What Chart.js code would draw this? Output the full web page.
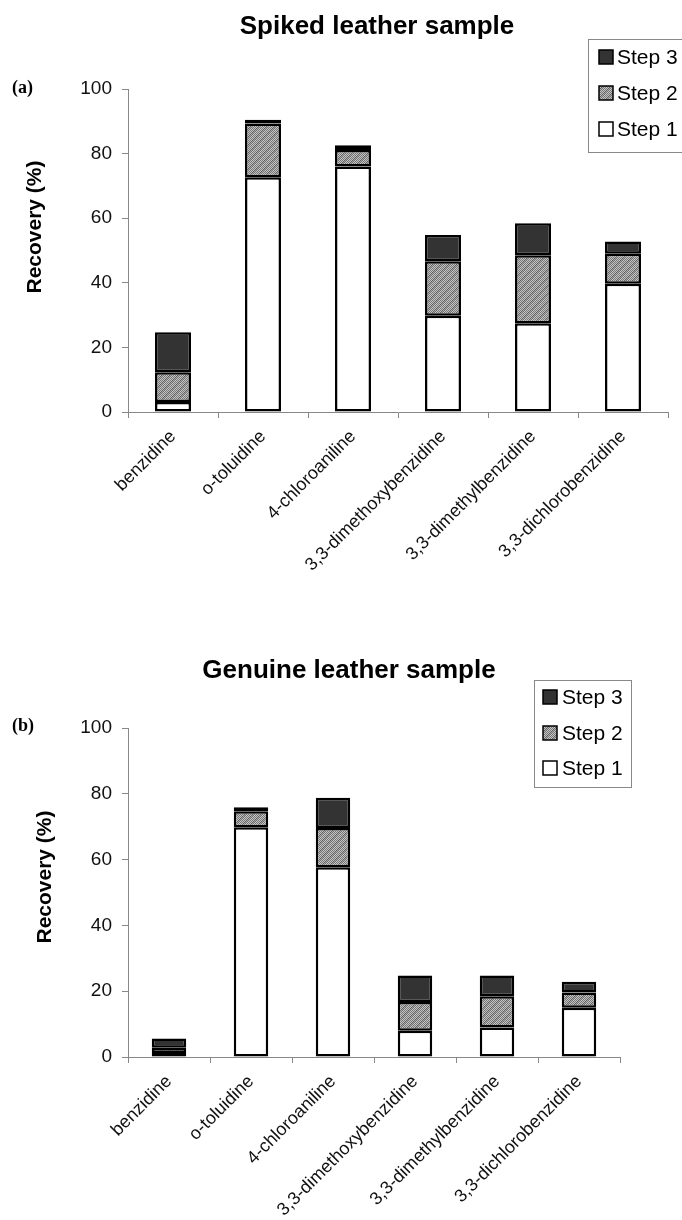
<!DOCTYPE html>
<html><head><meta charset="utf-8">
<script src="https://cdn.jsdelivr.net/npm/chart.js@4.4.1/dist/chart.umd.min.js"></script>
<style>
html,body{margin:0;padding:0;background:#fff;}
#wrap{position:relative;width:682px;height:1220px;overflow:hidden;background:#fff;}
.pane{position:absolute;left:0;width:682px;height:610px;}
canvas{display:block;}
</style></head><body>
<div id="wrap">
<div class="pane" style="top:0"><canvas id="cA" width="682" height="610"></canvas></div>
<div class="pane" style="top:610px"><canvas id="cB" width="682" height="610"></canvas></div>
</div>
<script>
// ---- data ----
const categories = ['benzidine', 'o-toluidine', '4-chloroaniline', '3,3-dimethoxybenzidine', '3,3-dimethylbenzidine', '3,3-dichlorobenzidine'];
const seriesLabels = ['Step 1', 'Step 2', 'Step 3'];
const spikedStep1 = [3.1, 72.7, 76.0, 29.8, 27.5, 39.7];
const spikedStep2 = [9.2, 16.6, 5.1, 16.9, 21.0, 9.3];
const spikedStep3 = [12.4, 1.2, 1.5, 8.1, 9.9, 3.8];
const genuineStep1 = [1.2, 69.8, 57.7, 8.0, 9.0, 15.0];
const genuineStep2 = [1.6, 4.9, 11.9, 8.7, 9.5, 4.6];
const genuineStep3 = [2.8, 1.2, 9.2, 8.1, 6.3, 3.3];
const yTicks = [0, 20, 40, 60, 80, 100];
const titleA = 'Spiked leather sample';
const titleB = 'Genuine leather sample';
const yTitle = 'Recovery (%)';

// ---- styles ----
const SANS = '"Liberation Sans", Arial, Helvetica, sans-serif';
const SERIF = '"Liberation Serif", "Times New Roman", serif';

function makeHatch() {
  const c = document.createElement('canvas');
  c.width = 8; c.height = 8;
  const g = c.getContext('2d');
  for (let y = 0; y < 8; y++) {
    for (let x = 0; x < 8; x++) {
      const diag = ((x + y) % 8) < 2;
      const dark = (x + y) % 2 === 0;
      g.fillStyle = dark ? (diag ? '#5e5e5e' : '#747474') : (diag ? '#a6a6a6' : '#c6c6c6');
      g.fillRect(x, y, 1, 1);
    }
  }
  return document.createElement('canvas').getContext('2d').createPattern(c, 'repeat');
}
const hatch = makeHatch();
const fills = ['#ffffff', hatch, '#333333'];

const overlay = {
  id: 'overlay',
  afterDraw(chart) {
    const o = chart.options.plugins.overlay;
    const ctx = chart.ctx;
    ctx.save();
    // title
    ctx.fillStyle = '#000';
    ctx.font = 'bold 26px ' + SANS;
    ctx.textAlign = 'center';
    ctx.textBaseline = 'middle';
    ctx.fillText(o.title, o.titleX, o.titleY);
    // panel label
    ctx.font = 'bold 18px ' + SERIF;
    ctx.textAlign = 'left';
    ctx.fillText(o.panel, 12, o.panelY);
    // y title
    ctx.save();
    ctx.translate(o.yTitleX, o.yTitleY);
    ctx.rotate(-Math.PI / 2);
    ctx.font = 'bold 21px ' + SANS;
    ctx.textAlign = 'center';
    ctx.fillText(yTitle, 0, 0);
    ctx.restore();
    // legend
    const L = o.legend;
    ctx.fillStyle = '#fff';
    ctx.fillRect(L.x, L.y, L.w, L.h);
    ctx.strokeStyle = '#888';
    ctx.lineWidth = 1;
    ctx.strokeRect(L.x + 0.5, L.y + 0.5, L.w, L.h);
    const ds = chart.data.datasets;
    ctx.font = '21px ' + SANS;
    ctx.textAlign = 'left';
    ctx.textBaseline = 'middle';
    for (let i = 0; i < ds.length; i++) {
      const d = ds[ds.length - 1 - i];
      const cy = L.rows[i];
      ctx.fillStyle = d.backgroundColor;
      ctx.fillRect(L.sx, cy - 7, 14, 14);
      ctx.strokeStyle = '#000';
      ctx.lineWidth = 1.5;
      ctx.strokeRect(L.sx, cy - 7, 14, 14);
      ctx.fillStyle = '#000';
      ctx.fillText(d.label, L.tx, cy + 1);
    }
    ctx.restore();
  }
};

function build(id, s1, s2, s3, geo) {
  const W = 682, H = 610;
  const data = [s1, s2, s3];
  return new Chart(document.getElementById(id), {
    type: 'bar',
    data: {
      labels: categories,
      datasets: data.map((arr, i) => ({
        label: seriesLabels[i],
        data: arr,
        backgroundColor: fills[i],
        borderColor: '#000',
        borderWidth: 2.5,
        borderSkipped: false,
        barPercentage: geo.barPct,
        categoryPercentage: 1
      }))
    },
    options: {
      responsive: false,
      animation: false,
      devicePixelRatio: 1,
      layout: { padding: { left: 0, top: geo.top, right: W - geo.right, bottom: 0 } },
      plugins: {
        legend: { display: false },
        tooltip: { enabled: false },
        title: { display: false },
        overlay: geo.overlay
      },
      scales: {
        x: {
          stacked: true,
          offset: true,
          grid: { display: true, offset: true, drawOnChartArea: false, drawTicks: true, tickLength: 6, color: '#888', lineWidth: 1 },
          border: { display: true, color: '#888', width: 1 },
          ticks: { autoSkip: false, maxRotation: 45, minRotation: 45, color: '#111', padding: 8, font: { family: SANS, size: 18 } },
          afterFit(s) { s.height = H - geo.bottom; }
        },
        y: {
          stacked: true,
          min: 0, max: 100,
          grid: { display: true, drawOnChartArea: false, drawTicks: true, tickLength: 6, color: '#888', lineWidth: 1 },
          border: { display: true, color: '#888', width: 1 },
          ticks: { color: '#111', padding: 10, font: { family: SANS, size: 19 } },
          afterBuildTicks(s) { s.ticks = yTicks.map(v => ({ value: v })); },
          afterFit(s) { s.width = geo.left; }
        }
      }
    },
    plugins: [overlay]
  });
}

build('cA', spikedStep1, spikedStep2, spikedStep3, {
  left: 128, right: 668, top: 89, bottom: 412, barPct: 0.4,
  overlay: {
    title: titleA, titleX: 377, titleY: 27,
    panel: '(a)', panelY: 88,
    yTitleX: 35, yTitleY: 227,
    legend: { x: 588, y: 39, w: 110, h: 113, rows: [57, 93, 129], sx: 599, tx: 617 }
  }
});
build('cB', genuineStep1, genuineStep2, genuineStep3, {
  left: 128, right: 620, top: 118, bottom: 447, barPct: 0.42,
  overlay: {
    title: titleB, titleX: 349, titleY: 61,
    panel: '(b)', panelY: 116,
    yTitleX: 45, yTitleY: 267,
    legend: { x: 534, y: 70, w: 97, h: 107, rows: [87, 123, 158], sx: 543, tx: 562 }
  }
});
</script>
</body></html>
